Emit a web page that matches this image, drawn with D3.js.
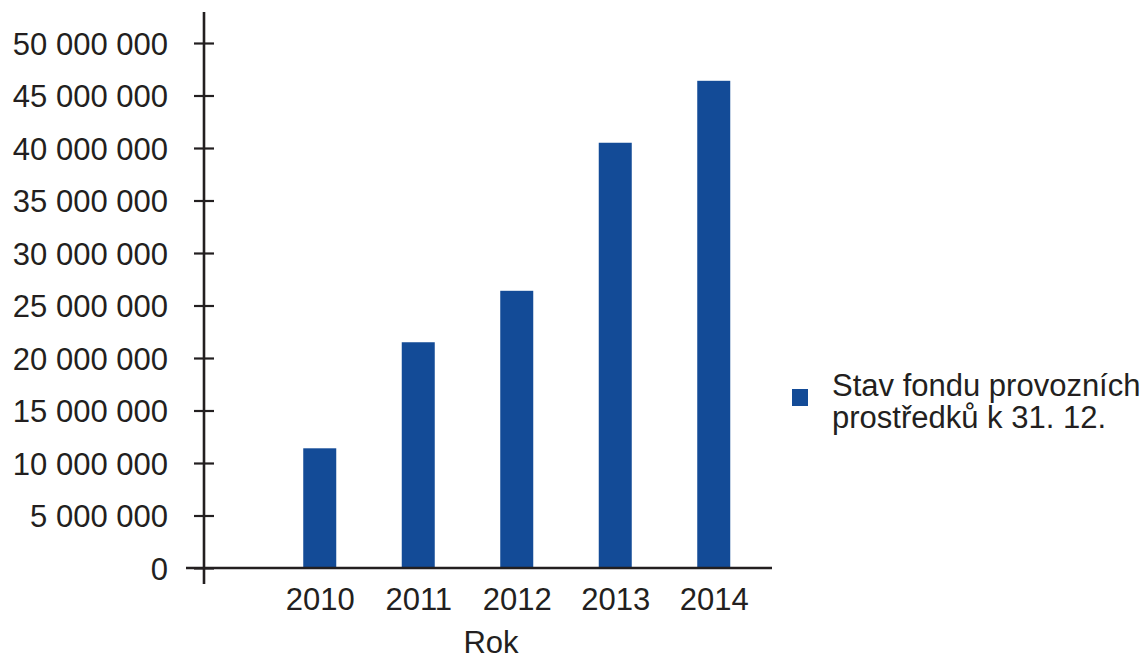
<!DOCTYPE html>
<html>
<head>
<meta charset="utf-8">
<script src="https://cdn.jsdelivr.net/npm/d3@7"></script>
<style>
  body { margin: 0; background: #fff; }
  svg text { font-family: "Liberation Sans", Arial, sans-serif; fill: #231f20; }
</style>
</head>
<body>
<svg id="chart" width="1148" height="660"></svg>
<script>
var years = ["2010", "2011", "2012", "2013", "2014"];
var fundValues = [11400000, 21500000, 26400000, 40500000, 46400000];
var yTicks = [0, 5000000, 10000000, 15000000, 20000000, 25000000, 30000000, 35000000, 40000000, 45000000, 50000000];
var seriesName = ["Stav fondu provozních", "prostředků k 31. 12."];
var axisTitle = "Rok";

var ink = "#231f20";
var barColor = "#134b97";
var fontSize = 31;

var svg = d3.select("#chart");
var axisX = 204, zeroY = 568, topY = 43;

var cz = d3.formatLocale({ decimal: ",", thousands: " ", grouping: [3], currency: ["", " Kč"] });
var fmt = cz.format(",");

var y = d3.scaleLinear().domain([0, 50000000]).range([zeroY, topY]);
var x = d3.scalePoint().domain(years).range([270.5, 763]).padding(0.5);
var barWidth = 33;

// bars
svg.append("g").selectAll("rect")
  .data(years)
  .enter().append("rect")
  .attr("x", function(d) { return x(d) - barWidth / 2; })
  .attr("width", barWidth)
  .attr("y", function(d, i) { return y(fundValues[i]); })
  .attr("height", function(d, i) { return zeroY - y(fundValues[i]); })
  .attr("fill", barColor);

// y axis
var yAxis = svg.append("g")
  .attr("transform", "translate(" + axisX + ",0)")
  .call(d3.axisLeft(y).tickValues(yTicks).tickFormat(fmt).tickSize(10).tickPadding(26));
yAxis.select(".domain").remove();
yAxis.selectAll(".tick line").attr("x2", -10).attr("x1", 10).attr("stroke", ink).attr("stroke-width", 2.2);
yAxis.selectAll(".tick text")
  .attr("font-size", fontSize)
  .attr("font-family", "Liberation Sans, Arial, sans-serif")
  .attr("fill", ink)
  .attr("dy", "0.36em");
svg.append("line")
  .attr("x1", axisX).attr("x2", axisX)
  .attr("y1", 12).attr("y2", 584)
  .attr("stroke", ink).attr("stroke-width", 2.6);

// x axis
svg.append("line")
  .attr("x1", 186).attr("x2", 772)
  .attr("y1", zeroY).attr("y2", zeroY)
  .attr("stroke", ink).attr("stroke-width", 2.6);
var xAxis = svg.append("g")
  .attr("transform", "translate(0," + zeroY + ")")
  .call(d3.axisBottom(x).tickSize(0).tickPadding(20));
xAxis.select(".domain").remove();
xAxis.selectAll(".tick text")
  .attr("font-size", fontSize)
  .attr("font-family", "Liberation Sans, Arial, sans-serif")
  .attr("fill", ink)
  .attr("dy", "0.71em");

svg.append("text")
  .attr("x", 491).attr("y", 653)
  .attr("text-anchor", "middle")
  .attr("font-size", fontSize)
  .text(axisTitle);

// legend
var legend = svg.append("g").attr("transform", "translate(792,389)");
legend.append("rect").attr("width", 16).attr("height", 17).attr("fill", barColor);
legend.selectAll("text")
  .data(seriesName)
  .enter().append("text")
  .attr("x", 40)
  .attr("y", function(d, i) { return 7 + i * 32; })
  .attr("font-size", fontSize)
  .text(function(d) { return d; });
</script>
</body>
</html>
